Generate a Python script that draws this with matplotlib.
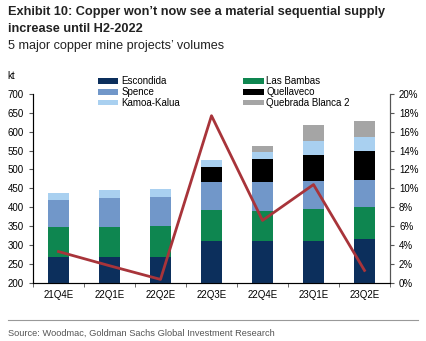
import numpy as np
import matplotlib
matplotlib.use("Agg")
import matplotlib.pyplot as plt

quarters = ["21Q4E", "22Q1E", "22Q2E", "22Q3E", "22Q4E", "23Q1E", "23Q2E"]

# stacked volumes, kt
escondida = [267, 267, 269, 311, 311, 311, 315]
las_bambas = [81, 81, 82, 82, 80, 85, 85]
spence = [71, 77, 77, 74, 76, 74, 72]
quellaveco = [0, 0, 0, 39, 60, 69, 76]
kamoa = [18, 20, 19, 19, 19, 37, 37]
qb2 = [0, 0, 0, 0, 16, 43, 43]

# qoq growth, % (right axis)
growth = [3.3, 1.8, 0.35, 17.7, 6.6, 10.4, 1.3]

series = [
    ("Escondida", escondida, "#0c2f5c"),
    ("Las Bambas", las_bambas, "#0e8650"),
    ("Spence", spence, "#7197c9"),
    ("Quellaveco", quellaveco, "#000000"),
    ("Kamoa-Kalua", kamoa, "#a9d0f0"),
    ("Quebrada Blanca 2", qb2, "#a5a5a5"),
]

plt.rcParams["font.family"] = ["Liberation Sans", "DejaVu Sans"]

fig = plt.figure(figsize=(4.26, 3.41), dpi=100)
ax = fig.add_axes([33 / 426, 1 - 282.7 / 341, (390 - 33) / 426, (282.7 - 94) / 341])

x = np.arange(len(quarters))
bottom = np.zeros(len(quarters))
handles = {}
for name, vals, col in series:
    v = np.array(vals, dtype=float)
    h = ax.bar(x, v, 0.4, bottom=bottom, color=col, label=name, zorder=2)
    handles[name] = h
    bottom += v

ax.set_ylim(200, 700)
ax.set_xlim(-0.5, 6.5)
ax.set_yticks(np.arange(200, 701, 50))
ax.set_xticks(x)
ax.set_xticklabels(quarters)
ax.set_xticks(np.arange(-0.5, 7, 1), minor=True)
ax.tick_params(axis="x", which="major", length=0, labelsize=7, pad=5)
ax.tick_params(axis="x", which="minor", length=3, direction="out", color="#555555")
ax.tick_params(axis="y", labelsize=7, length=3, color="#555555")
ax.spines["top"].set_visible(False)
for s in ["left", "right", "bottom"]:
    ax.spines[s].set_color("#555555")
    ax.spines[s].set_linewidth(0.8)
ax.text(-0.06, 1.08, "kt", transform=ax.transAxes, fontsize=7, ha="center")

ax2 = ax.twinx()
ax2.plot(x, growth, color="#a8343a", lw=2, zorder=3)
ax2.set_ylim(0, 20)
ax2.set_yticks(np.arange(0, 21, 2))
ax2.set_yticklabels([f"{t}%" for t in range(0, 21, 2)])
ax2.tick_params(axis="y", labelsize=7, length=3, color="#555555")
ax2.spines["top"].set_visible(False)
ax2.spines["right"].set_color("#555555")
ax2.spines["right"].set_linewidth(0.8)

order = ["Escondida", "Spence", "Kamoa-Kalua", "Las Bambas", "Quellaveco", "Quebrada Blanca 2"]
leg = ax2.legend([handles[n] for n in order], order, ncol=2, loc="upper left",
                 bbox_to_anchor=(0.168, 1.12), frameon=False, fontsize=7,
                 handlelength=2.1, handleheight=0.5, columnspacing=6.5,
                 labelspacing=0.1, handletextpad=0.3, borderpad=0)

fig.text(0.019, 1 - 12.5 / 341, "Exhibit 10: Copper won\u2019t now see a material sequential supply",
         fontsize=9.2, fontweight="bold", va="center", color="#222222")
fig.text(0.019, 1 - 29.5 / 341, "increase until H2-2022",
         fontsize=9.2, fontweight="bold", va="center", color="#222222")
fig.text(0.019, 1 - 46.5 / 341, "5 major copper mine projects\u2019 volumes",
         fontsize=9.1, va="center", color="#222222")

fig.add_artist(plt.Line2D([8 / 426, 418 / 426], [1 - 320 / 341] * 2,
                          color="#999999", lw=0.8, transform=fig.transFigure))
fig.text(8 / 426, 1 - 333 / 341, "Source: Woodmac, Goldman Sachs Global Investment Research",
         fontsize=6.7, va="center", color="#555555")

fig.savefig("out.png", dpi=100)
